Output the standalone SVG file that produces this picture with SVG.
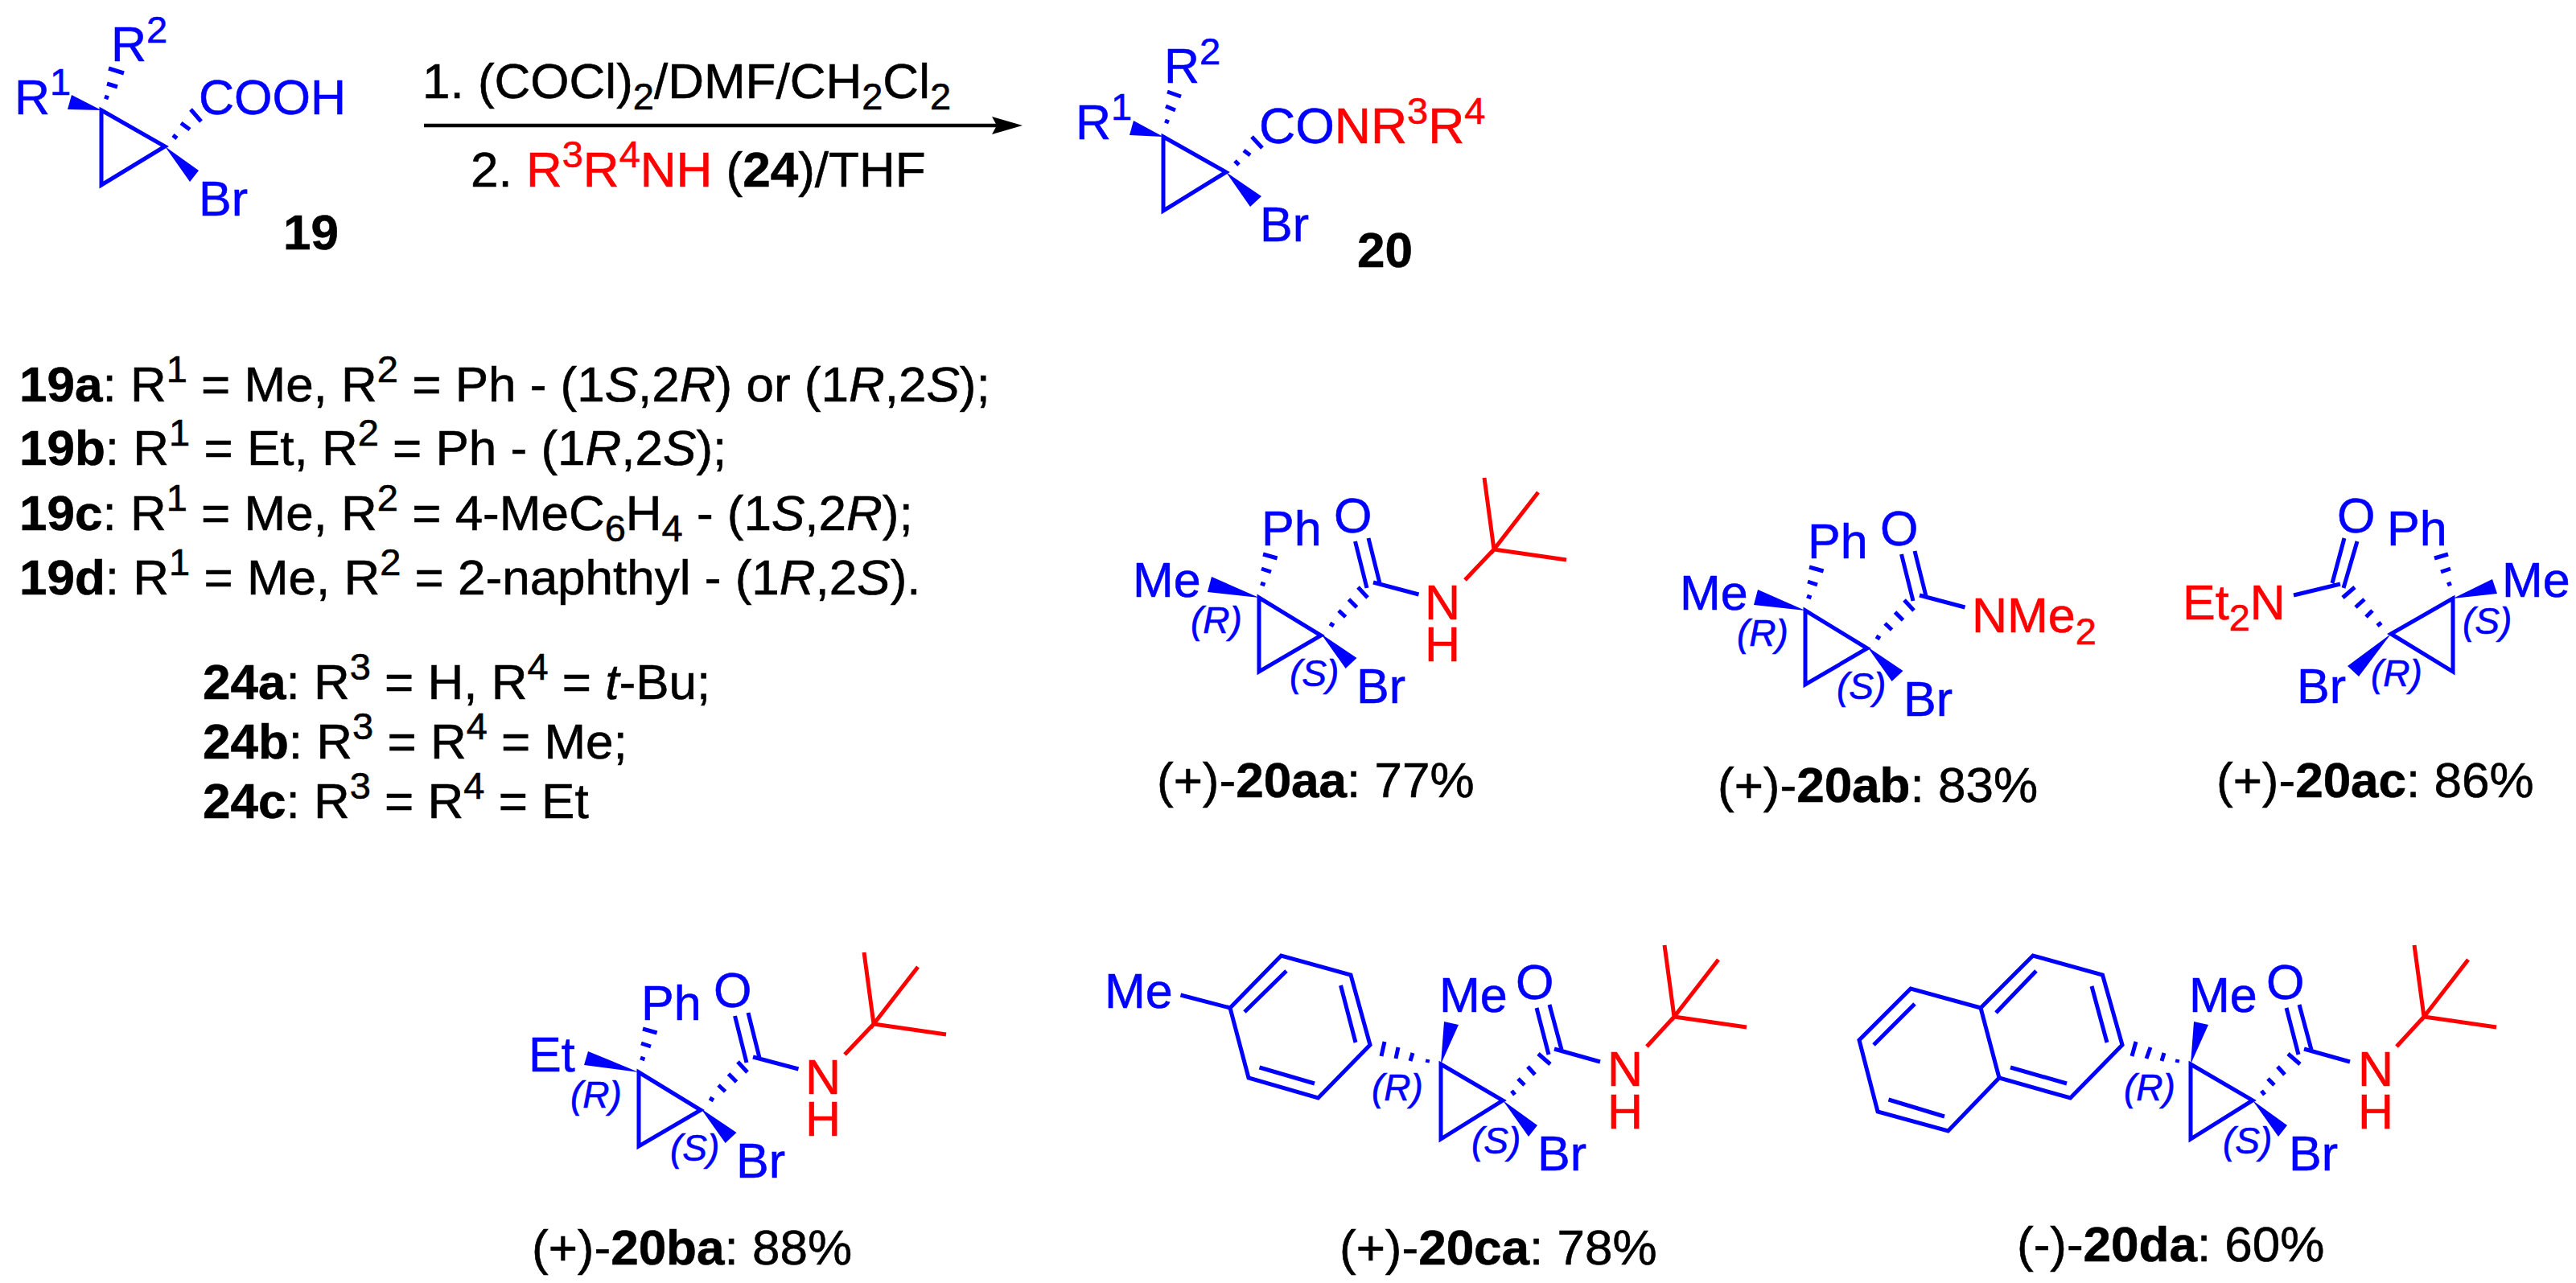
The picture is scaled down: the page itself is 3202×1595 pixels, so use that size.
<svg xmlns="http://www.w3.org/2000/svg" width="3202" height="1595" viewBox="0 0 3202 1595">
<style>
text{font-family:"Liberation Sans",Arial,sans-serif;font-size:62px;fill:#000;stroke:#000;stroke-width:.6}
text.bl{fill:#00f;stroke:#00f;font-size:61px}
text.wide{font-size:62.5px}
text.rd{fill:#f00;stroke:#f00;font-size:61px}
tspan.rd{fill:#f00;stroke:#f00}
text.st{font-size:46px;font-style:italic;fill:#00f;stroke:#00f}
.bd{font-weight:bold}
.it{font-style:italic}
.u{font-size:47px}
.b{stroke:#00f;stroke-width:5;fill:none}
.r{stroke:#f00;stroke-width:5;fill:none}
.w{fill:#00f}
.a{stroke:#000;stroke-width:4.5;fill:none}
</style>
<defs>
<marker id="head" markerUnits="userSpaceOnUse" markerWidth="38" markerHeight="22" viewBox="0 0 38 22" refX="6" refY="11" orient="auto"><path d="M0,0L38,11L0,22L6,11Z" fill="#000"/></marker>
<g id="core-aa">
<path class="b" d="M1565,743L1642,790L1565,835Z"/>
<path class="b" d="M1570,689L1587.6,694M1568,707L1580,711M1567,725L1572.5,727"/>
<path class="b" d="M1688,730L1700,743M1676.5,745L1686.5,755M1664,759L1672.6,767M1653,775L1658,778"/>
<path class="b" d="M1715,725L1701,669M1699,731L1684.5,673M1707,724L1763.5,739"/>
<polygon class="w" points="1642,788 1686.5,818 1672.6,831"/>
</g>
<g id="tbu-aa"><path class="r" d="M1821,721L1857,683M1845,594L1857,683L1912,612M1857,683L1947,696"/></g>
<g id="core-ca">
<path class="b" d="M1791,1323L1868,1368L1791,1416Z"/>
<path class="b" d="M1912,1310L1927,1323M1899,1326L1908,1336M1887,1341L1895,1349M1879,1356L1883,1361"/>
<path class="b" d="M1941,1305L1926,1249M1925,1311L1910,1253M1932,1304L1989,1320"/>
<polygon class="w" points="1868,1368 1911,1399 1900,1413"/>
<polygon class="w" points="1791,1323 1795,1270 1813,1274"/>
<path class="r" d="M2047,1301L2081,1264M2069,1175L2081,1264L2136,1193M2081,1264L2171,1277"/>
</g>
</defs>
<g id="connectors"><line class="a" x1="527" y1="156" x2="1239" y2="156" marker-end="url(#head)"/></g>
<g id="reagents">
<text x="525" y="122">1. (COCl)<tspan class="u" dy="14">2</tspan><tspan dy="-14">/DMF/CH</tspan><tspan class="u" dy="14">2</tspan><tspan dy="-14">Cl</tspan><tspan class="u" dy="14">2</tspan></text>
<text x="585" y="232">2. <tspan class="rd">R<tspan class="u" dy="-24">3</tspan><tspan dy="24">R</tspan><tspan class="u" dy="-24">4</tspan><tspan dy="24">NH</tspan></tspan> (<tspan class="bd">24</tspan>)/THF</text>
</g>
<g id="m19">
<path class="b" d="M126,137L205,182L126,230Z"/>
<polygon class="w" points="126,137 89,118 84,136"/>
<polygon class="w" points="205,182 247,212 236,226"/>
<path class="b" d="M135,85L154,91M133,104L146,108M130,120L135,122"/>
<path class="b" d="M237,136L250,151M225,153L236,161M215,168L220,172"/>
<text class="bl" x="18" y="142">R<tspan class="u" dy="-24">1</tspan></text>
<text class="bl" x="138" y="76">R<tspan class="u" dy="-23">2</tspan></text>
<text class="bl" x="247" y="142">COOH</text>
<text class="bl" x="247" y="268">Br</text>
<text class="bd" x="352" y="310">19</text>
</g>
<g id="m20">
<path class="b" d="M1446,170L1524,214L1446,262Z"/>
<polygon class="w" points="1446,170 1409,150 1404,168"/>
<polygon class="w" points="1524,214 1568,244 1554,257"/>
<path class="b" d="M1451,114L1468,120M1449,132L1461,137M1448,150L1453,152"/>
<path class="b" d="M1556,170L1569,184M1546,187L1554,193M1535,200L1540,205"/>
<text class="bl" x="1337" y="173">R<tspan class="u" dy="-24">1</tspan></text>
<text class="bl" x="1447" y="103">R<tspan class="u" dy="-23">2</tspan></text>
<text class="bl wide" x="1565" y="178">CO<tspan class="rd">NR<tspan class="u" dy="-24">3</tspan><tspan dy="24">R</tspan><tspan class="u" dy="-24">4</tspan></tspan></text>
<text class="bl" x="1566" y="300">Br</text>
<text class="bd" x="1687" y="332">20</text>
</g>
<g id="legend">
<text x="24" y="499"><tspan class="bd">19a</tspan>: R<tspan class="u" dy="-24">1</tspan><tspan dy="24"> = Me, R</tspan><tspan class="u" dy="-24">2</tspan><tspan dy="24"> = Ph - (1</tspan><tspan class="it">S</tspan>,2<tspan class="it">R</tspan>) or (1<tspan class="it">R</tspan>,2<tspan class="it">S</tspan>);</text>
<text x="24" y="578"><tspan class="bd">19b</tspan>: R<tspan class="u" dy="-24">1</tspan><tspan dy="24"> = Et, R</tspan><tspan class="u" dy="-24">2</tspan><tspan dy="24"> = Ph - (1</tspan><tspan class="it">R</tspan>,2<tspan class="it">S</tspan>);</text>
<text x="24" y="659"><tspan class="bd">19c</tspan>: R<tspan class="u" dy="-24">1</tspan><tspan dy="24"> = Me, R</tspan><tspan class="u" dy="-24">2</tspan><tspan dy="24"> = 4-MeC</tspan><tspan class="u" dy="14">6</tspan><tspan dy="-14">H</tspan><tspan class="u" dy="14">4</tspan><tspan dy="-14"> - (1</tspan><tspan class="it">S</tspan>,2<tspan class="it">R</tspan>);</text>
<text x="24" y="739"><tspan class="bd">19d</tspan>: R<tspan class="u" dy="-24">1</tspan><tspan dy="24"> = Me, R</tspan><tspan class="u" dy="-24">2</tspan><tspan dy="24"> = 2-naphthyl - (1</tspan><tspan class="it">R</tspan>,2<tspan class="it">S</tspan>).</text>
<text x="252" y="869"><tspan class="bd">24a</tspan>: R<tspan class="u" dy="-24">3</tspan><tspan dy="24"> = H, R</tspan><tspan class="u" dy="-24">4</tspan><tspan dy="24"> = </tspan><tspan class="it">t</tspan>-Bu;</text>
<text x="252" y="943"><tspan class="bd">24b</tspan>: R<tspan class="u" dy="-24">3</tspan><tspan dy="24"> = R</tspan><tspan class="u" dy="-24">4</tspan><tspan dy="24"> = Me;</tspan></text>
<text x="252" y="1017"><tspan class="bd">24c</tspan>: R<tspan class="u" dy="-24">3</tspan><tspan dy="24"> = R</tspan><tspan class="u" dy="-24">4</tspan><tspan dy="24"> = Et</tspan></text>
</g>
<g id="p20aa">
<use href="#core-aa"/><use href="#tbu-aa"/>
<polygon class="w" points="1565,743 1506,717 1501,736"/>
<text class="bl" x="1568" y="678">Ph</text><text class="bl" x="1658" y="662">O</text><text class="bl" x="1408" y="742">Me</text><text class="bl" x="1686" y="874">Br</text>
<text class="rd" x="1771" y="770">N</text><text class="rd" x="1771" y="822">H</text>
<text class="st" x="1480" y="787">(R)</text><text class="st" x="1603" y="853">(S)</text>
<text x="1438" y="991">(+)-<tspan class="bd">20aa</tspan>: 77%</text>
</g>
<g id="p20ab">
<use href="#core-aa" x="679" y="16"/>
<polygon class="w" points="2244,759 2185,733 2180,752"/>
<text class="bl" x="2247" y="694">Ph</text><text class="bl" x="2337" y="678">O</text><text class="bl" x="2088" y="758">Me</text><text class="bl" x="2366" y="890">Br</text>
<text class="rd" x="2451" y="786">NMe<tspan class="u" dy="15">2</tspan></text>
<text class="st" x="2159" y="803">(R)</text><text class="st" x="2283" y="869">(S)</text>
<text x="2135" y="997">(+)-<tspan class="bd">20ab</tspan>: 83%</text>
</g>
<g id="p20ac">
<path class="b" d="M3049,744L2972,788L3049,835Z"/>
<polygon class="w" points="3049,744 3098,720 3104,738"/>
<polygon class="w" points="2972,788 2918,828 2932,841"/>
<path class="b" d="M3026,694L3043,689M3034,711L3046,707M3042,727L3047,725"/>
<path class="b" d="M2912,743L2927,730M2928,755L2939,745M2941,767L2949,759M2955,778L2960,774"/>
<path class="b" d="M2899,725L2914,669M2913,731L2930,673M2909,726L2851,740"/>
<text class="rd" x="2713" y="770">Et<tspan class="u" dy="14">2</tspan><tspan dy="-14">N</tspan></text>
<text class="bl" x="2905" y="662">O</text><text class="bl" x="2967" y="678">Ph</text><text class="bl" x="3110" y="742">Me</text><text class="bl" x="2855" y="874">Br</text>
<text class="st" x="3061" y="788">(S)</text><text class="st" x="2947" y="853">(R)</text>
<text x="2755" y="991">(+)-<tspan class="bd">20ac</tspan>: 86%</text>
</g>
<g id="p20ba">
<use href="#core-aa" x="-771" y="590"/><use href="#tbu-aa" x="-771" y="590"/>
<polygon class="w" points="794,1333 731,1307 726,1324"/>
<text class="bl" x="797" y="1268">Ph</text><text class="bl" x="887" y="1252">O</text><text class="bl" x="657" y="1332">Et</text><text class="bl" x="915" y="1464">Br</text>
<text class="rd" x="1001" y="1360">N</text><text class="rd" x="1001" y="1412">H</text>
<text class="st" x="709" y="1377">(R)</text><text class="st" x="833" y="1443">(S)</text>
<text x="661" y="1572">(+)-<tspan class="bd">20ba</tspan>: 88%</text>
</g>
<g id="p20ca">
<use href="#core-ca"/>
<path class="b" d="M1703,1299L1679,1212L1592.5,1188L1529,1253L1552,1340L1638.5,1365Z"/>
<path class="b" d="M1666.5,1225L1685,1296M1599,1207L1547,1258M1565.5,1327L1634,1347M1467.5,1237L1529,1253"/>
<path class="b" d="M1721,1295L1717,1313M1738,1302L1735,1316M1756,1309L1753,1319M1775,1317L1774,1321"/>
<text class="bl" x="1373" y="1253">Me</text><text class="bl" x="1789" y="1258">Me</text><text class="bl" x="1884" y="1242">O</text><text class="bl" x="1911" y="1455">Br</text>
<text class="rd" x="1998" y="1350">N</text><text class="rd" x="1998" y="1403">H</text>
<text class="st" x="1705" y="1368">(R)</text><text class="st" x="1829" y="1434">(S)</text>
<text x="1665" y="1572">(+)-<tspan class="bd">20ca</tspan>: 78%</text>
</g>
<g id="p20da">
<use href="#core-ca" x="932"/>
<path class="b" d="M2638,1299L2613.5,1212L2527,1188L2462,1253L2485,1340L2573.5,1365Z"/>
<path class="b" d="M2462,1253L2375,1229L2311,1293L2334,1382L2421.5,1406L2485,1340"/>
<path class="b" d="M2600,1226L2619,1296M2531,1207L2481,1259M2499,1327L2569,1347M2347.5,1367L2417,1388M2329,1299L2380,1248"/>
<path class="b" d="M2655,1295L2650,1313M2673,1302L2668,1316M2690,1309L2687,1319M2707,1317L2706,1321"/>
<text class="bl" x="2721" y="1258">Me</text><text class="bl" x="2817" y="1242">O</text><text class="bl" x="2845" y="1455">Br</text>
<text class="rd" x="2931" y="1350">N</text><text class="rd" x="2931" y="1403">H</text>
<text class="st" x="2640" y="1368">(R)</text><text class="st" x="2763" y="1434">(S)</text>
<text x="2507" y="1568">(-)-<tspan class="bd">20da</tspan>: 60%</text>
</g>
</svg>
